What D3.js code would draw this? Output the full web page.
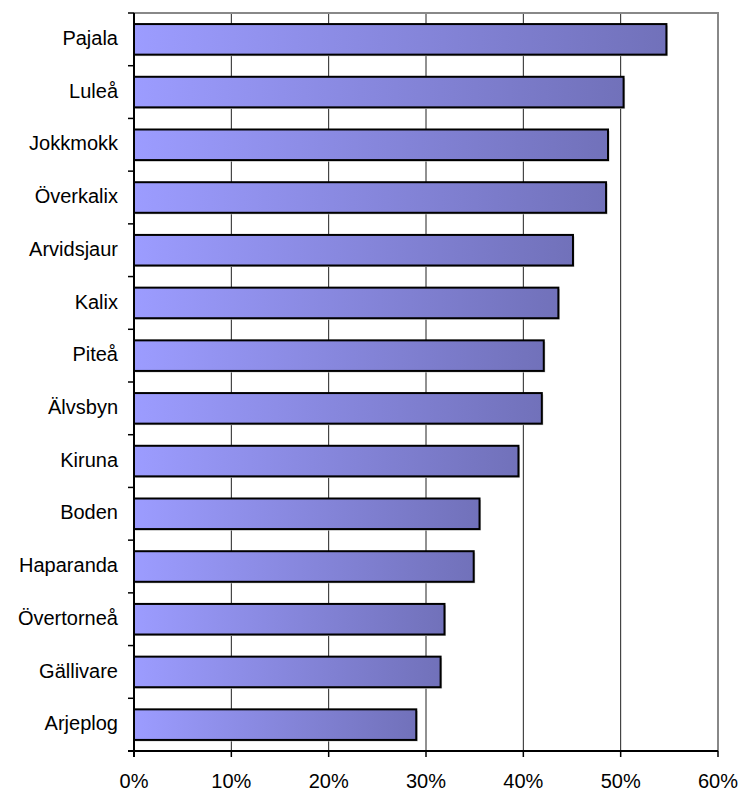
<!DOCTYPE html>
<html>
<head>
<meta charset="utf-8">
<script src="https://cdn.jsdelivr.net/npm/d3@7"></script>
<style>
  body { margin: 0; background: #fff; }
  svg { display: block; font-family: Arial, "Liberation Sans", sans-serif; }
</style>
</head>
<body>
<div id="chart"></div>
<script>
// data
const categories = ["Pajala", "Luleå", "Jokkmokk", "Överkalix", "Arvidsjaur", "Kalix", "Piteå",
  "Älvsbyn", "Kiruna", "Boden", "Haparanda", "Övertorneå", "Gällivare", "Arjeplog"];
const values = [54.7, 50.3, 48.7, 48.5, 45.1, 43.6, 42.1, 41.9, 39.5, 35.5, 34.9, 31.9, 31.5, 29.0];
const tickValues = [0, 10, 20, 30, 40, 50, 60];

// dimensions
const width = 741;
const height = 791;
const margin = { top: 13, right: 23, bottom: 40, left: 134 };

const svg = d3.select("#chart")
  .append("svg")
  .attr("width", width)
  .attr("height", height);

const x = d3.scaleLinear()
  .domain([0, 60])
  .range([margin.left, width - margin.right]);

const y = d3.scaleBand()
  .domain(categories)
  .range([margin.top, height - margin.bottom])
  .paddingInner(0.42)
  .paddingOuter(0.21);

// gradient for bars
const defs = svg.append("defs");
const grad = defs.append("linearGradient")
  .attr("id", "barGrad")
  .attr("x1", "0%").attr("x2", "100%")
  .attr("y1", "0%").attr("y2", "0%");
grad.append("stop").attr("offset", "0%").attr("stop-color", "#9c9cff");
grad.append("stop").attr("offset", "100%").attr("stop-color", "#7171ba");

// grid lines
svg.append("g")
  .selectAll("line")
  .data(tickValues.slice(1, -1))
  .enter()
  .append("line")
  .attr("x1", d => x(d)).attr("x2", d => x(d))
  .attr("y1", margin.top).attr("y2", height - margin.bottom)
  .attr("stroke", "#222")
  .attr("stroke-width", 1);

// plot frame (top + right grey)
svg.append("path")
  .attr("d", `M${x(0)},${margin.top}H${x(60)}V${height - margin.bottom}`)
  .attr("fill", "none")
  .attr("stroke", "#888")
  .attr("stroke-width", 2);

// bars
const bars = svg.append("g")
  .selectAll("g")
  .data(categories)
  .enter()
  .append("g");

bars.append("rect")
  .attr("x", x(0) + 1.5)
  .attr("y", d => y(d) + 1.5)
  .attr("width", (d, i) => x(values[i]) - x(0))
  .attr("height", y.bandwidth())
  .attr("fill", "#c8c8c8");

bars.append("rect")
  .attr("x", x(0))
  .attr("y", d => y(d))
  .attr("width", (d, i) => x(values[i]) - x(0))
  .attr("height", y.bandwidth())
  .attr("fill", "url(#barGrad)")
  .attr("stroke", "#000")
  .attr("stroke-width", 2);

// y axis
const yAxis = svg.append("g");
yAxis.append("line")
  .attr("x1", x(0)).attr("x2", x(0))
  .attr("y1", margin.top).attr("y2", height - margin.bottom + 6)
  .attr("stroke", "#000").attr("stroke-width", 2);

const bounds = categories.map(c => y(c) - y.step() * y.paddingInner() / 2);
bounds.push(height - margin.bottom);
yAxis.selectAll(".ytick")
  .data(bounds)
  .enter()
  .append("line")
  .attr("x1", x(0) - 6).attr("x2", x(0))
  .attr("y1", d => d).attr("y2", d => d)
  .attr("stroke", "#000").attr("stroke-width", 1.5);

yAxis.selectAll("text")
  .data(categories)
  .enter()
  .append("text")
  .attr("x", x(0) - 16)
  .attr("y", d => y(d) + y.bandwidth() / 2)
  .attr("dy", "0.28em")
  .attr("text-anchor", "end")
  .style("font-size", "20px")
  .style("fill", "#000")
  .text(d => d);

// x axis
const xAxis = svg.append("g");
xAxis.append("line")
  .attr("x1", x(0) - 6).attr("x2", x(60))
  .attr("y1", height - margin.bottom).attr("y2", height - margin.bottom)
  .attr("stroke", "#000").attr("stroke-width", 2);

xAxis.selectAll(".xtick")
  .data(tickValues)
  .enter()
  .append("line")
  .attr("x1", d => x(d)).attr("x2", d => x(d))
  .attr("y1", height - margin.bottom).attr("y2", height - margin.bottom + 6)
  .attr("stroke", "#000").attr("stroke-width", 1.5);

xAxis.selectAll("text")
  .data(tickValues)
  .enter()
  .append("text")
  .attr("x", d => x(d))
  .attr("y", height - margin.bottom + 37)
  .attr("text-anchor", "middle")
  .style("font-size", "20px")
  .style("fill", "#000")
  .text(d => d + "%");
</script>
</body>
</html>
